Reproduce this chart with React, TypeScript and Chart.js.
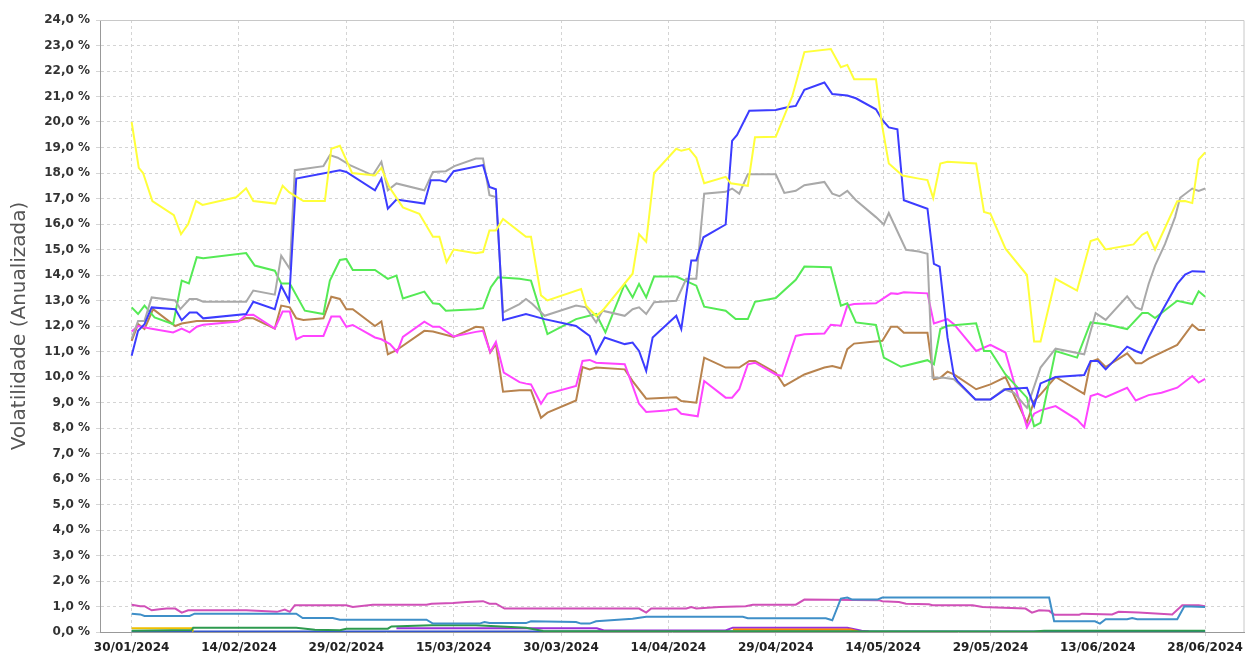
import React, { useEffect, useRef } from "react";
import { Chart, registerables } from "chart.js";

Chart.register(...registerables);

// x values are days after 30/01/2024
const tickDays = [0, 15, 30, 45, 60, 75, 90, 105, 120, 135, 150];
const tickLabels = [
  "30/01/2024", "14/02/2024", "29/02/2024", "15/03/2024", "30/03/2024", "14/04/2024",
  "29/04/2024", "14/05/2024", "29/05/2024", "13/06/2024", "28/06/2024",
];

const yellowSeries: [number, number][] = [
  [0, 20.0], [1, 18.2], [1.6, 18.0], [2.9, 16.9], [5.9, 16.35], [6.9, 15.6], [7.9, 16.0], [9, 16.9], [9.9, 16.75],
  [14.6, 17.05], [16, 17.4], [17, 16.9], [20.1, 16.8], [21.1, 17.5], [22, 17.25], [24, 16.9], [27, 16.9], [27.9, 18.95],
  [29.1, 19.07], [30.8, 18.0], [34, 17.9], [34.9, 18.2], [36, 17.45], [37.9, 16.65], [40.2, 16.4], [42.1, 15.5], [43, 15.5],
  [44, 14.5], [45, 15.0], [48.1, 14.85], [49.1, 14.9], [50, 15.75], [50.9, 15.75], [51.9, 16.2], [55.1, 15.5], [55.8, 15.5],
  [57.2, 13.2], [58.1, 13.0], [62.8, 13.45], [63.5, 12.8], [64.9, 12.4], [65.8, 12.6], [70, 14.05], [70.9, 15.6], [71.9, 15.3],
  [73, 18.0], [76.1, 18.95], [76.8, 18.87], [77.9, 18.95], [78.9, 18.6], [80, 17.6], [83, 17.85], [83.7, 17.6], [86.1, 17.5],
  [87.1, 19.4], [90, 19.42], [92.3, 21.0], [94, 22.74], [97.7, 22.86], [99.1, 22.15], [100, 22.24], [100.95, 21.68], [104, 21.68],
  [104.9, 19.8], [105.8, 18.37], [107.7, 17.9], [110, 17.78], [111.2, 17.72], [112, 17.02], [113, 18.37], [114, 18.44], [118, 18.37],
  [119.1, 16.47], [120, 16.4], [122.1, 15.03], [125.1, 14.0], [126.1, 11.39], [127, 11.39], [129.1, 13.85], [132.1, 13.39],
  [134, 15.33], [135, 15.42], [136.1, 15.0], [140, 15.2], [141.2, 15.58], [141.9, 15.68], [143, 15.0], [146.1, 16.89],
  [147.2, 16.9], [148.2, 16.82], [149.1, 18.53], [150, 18.81],
];

const graySeries: [number, number][] = [
  [0, 11.5], [0.9, 12.2], [1.8, 12.2], [2.8, 13.12], [6.1, 13.0], [6.8, 12.66], [8.1, 13.06], [9.1, 13.06], [10, 12.95], [16, 12.95],
  [17, 13.39], [20, 13.23], [20.9, 14.76], [22.1, 14.24], [22.8, 18.11], [26.8, 18.27], [27.7, 18.7], [28.8, 18.6], [30.5, 18.31],
  [33.7, 17.91], [34.9, 18.44], [35.8, 17.32], [37, 17.59], [40.9, 17.32], [42.1, 18.04], [43.9, 18.07], [45.1, 18.27], [48.1, 18.57],
  [49.1, 18.57], [50, 17.13], [50.9, 17.06], [51.9, 12.53], [54.2, 12.86], [55.1, 13.06], [56, 12.86], [57.7, 12.4], [62.1, 12.8],
  [63.5, 12.73], [64.9, 12.14], [65.8, 12.6], [68.9, 12.4], [70, 12.66], [70.9, 12.73], [71.9, 12.47], [73, 12.93], [76.1, 12.99],
  [77.5, 13.85], [78.9, 13.85], [80, 17.19], [83, 17.26], [83.9, 17.39], [84.9, 17.19], [86.1, 17.95], [90, 17.95], [91.2, 17.22],
  [92.8, 17.3], [94, 17.52], [96.8, 17.65], [97.9, 17.19], [98.9, 17.09], [100, 17.3], [101.2, 16.93], [104, 16.27], [105.1, 15.98],
  [105.8, 16.43], [108.2, 14.99], [110, 14.92], [111.2, 14.83], [111.9, 9.97], [113.5, 9.97], [114.9, 9.91], [117.9, 9.12], [120, 9.12],
  [121.9, 9.52], [123.3, 9.38], [125.1, 8.79], [127, 10.37], [129.1, 11.11], [133.1, 10.89], [134.7, 12.51], [136.1, 12.24],
  [139.1, 13.16], [140.3, 12.73], [141.1, 12.64], [142.1, 13.65], [143, 14.37], [144.4, 15.22], [145.8, 16.27], [146.5, 17.03],
  [148.2, 17.39], [149.1, 17.3], [150, 17.39],
];

const blueSeries: [number, number][] = [
  [0, 10.83], [0.9, 11.81], [1.8, 12.07], [2.8, 12.73], [6.1, 12.66], [7, 12.23], [8.1, 12.53], [9.1, 12.53], [10, 12.3], [16, 12.47],
  [17, 12.95], [20, 12.66], [20.9, 13.58], [22, 12.99], [23, 17.78], [29.1, 18.11], [30, 18.04], [34, 17.32], [34.9, 17.78],
  [35.8, 16.6], [37, 16.96], [40.9, 16.8], [41.8, 17.72], [43, 17.72], [43.9, 17.65], [45, 18.07], [49.1, 18.31], [50, 17.45],
  [50.9, 17.36], [51.9, 12.23], [55.1, 12.47], [57.7, 12.27], [62.1, 12.0], [64, 11.61], [64.9, 10.92], [66.1, 11.55], [68.9, 11.29],
  [70, 11.35], [70.9, 11.02], [71.9, 10.24], [72.8, 11.55], [76.1, 12.4], [76.8, 11.88], [78.2, 14.57], [78.9, 14.57], [79.9, 15.48],
  [83, 15.98], [83.9, 19.26], [84.6, 19.49], [86.3, 20.44], [90, 20.47], [91.6, 20.58], [92.8, 20.63], [94, 21.26], [96.8, 21.55],
  [97.9, 21.1], [100, 21.04], [101.2, 20.93], [104, 20.5], [104.9, 20.08], [105.8, 19.79], [107, 19.71], [107.9, 16.93], [111.2, 16.6],
  [112.1, 14.44], [112.9, 14.33], [114, 11.55], [114.9, 10.04], [115.4, 9.84], [117.9, 9.12], [120, 9.12], [122.1, 9.52], [125.1, 9.58],
  [126.1, 8.86], [127, 9.75], [129.1, 10.0], [133.1, 10.08], [134, 10.63], [135, 10.63], [136.1, 10.3], [139.1, 11.19], [140.3, 11.02],
  [141.1, 10.93], [142.1, 11.55], [144, 12.6], [146.1, 13.65], [147.2, 14.02], [148.2, 14.15], [150, 14.13],
];

const greenSeries: [number, number][] = [
  [0, 12.73], [0.9, 12.47], [1.8, 12.8], [3.2, 12.34], [5.8, 12.07], [7, 13.78], [8, 13.67], [9.1, 14.7], [10, 14.66], [16, 14.86],
  [17.2, 14.37], [20, 14.17], [20.9, 13.67], [22.1, 13.67], [24.2, 12.6], [26.8, 12.47], [27.7, 13.78], [29.1, 14.59], [30, 14.63],
  [30.9, 14.2], [34, 14.2], [35.8, 13.85], [37, 13.98], [37.9, 13.08], [40.9, 13.35], [42.1, 12.89], [43, 12.86], [43.9, 12.6],
  [48.1, 12.66], [49.1, 12.7], [50.2, 13.52], [51.2, 13.91], [54.2, 13.85], [55.8, 13.78], [58.1, 11.68], [62.1, 12.27], [64.9, 12.47],
  [66.2, 11.75], [68.9, 13.65], [70, 13.12], [70.9, 13.65], [71.9, 13.12], [73, 13.94], [76.1, 13.94], [78.9, 13.58], [80, 12.76],
  [83, 12.6], [84.4, 12.27], [86.1, 12.27], [87.1, 12.95], [90, 13.1], [92.8, 13.81], [94, 14.33], [97.7, 14.3], [99.1, 12.8],
  [100, 12.89], [101.2, 12.14], [104, 12.04], [105.1, 10.76], [107.5, 10.4], [111.2, 10.66], [112.1, 10.5], [113, 11.88], [114, 12.01],
  [118, 12.11], [119.1, 11.02], [120, 11.02], [122.1, 10.1], [125.1, 9.19], [126.1, 8.07], [127, 8.2], [129.1, 11.02], [132.1, 10.76],
  [134, 12.14], [136.1, 12.07], [139.1, 11.88], [141.2, 12.51], [142, 12.51], [143, 12.31], [146.1, 12.99], [148.2, 12.86],
  [149.1, 13.36], [150, 13.15],
];

const brownSeries: [number, number][] = [
  [0, 11.42], [0.9, 12.07], [1.8, 11.88], [3, 12.66], [6.1, 12.0], [7, 12.1], [9.1, 12.2], [14.9, 12.2], [16, 12.31], [17, 12.3],
  [20, 11.9], [20.9, 12.8], [22.1, 12.73], [23, 12.3], [24, 12.24], [26.8, 12.3], [27.9, 13.15], [29.1, 13.06], [30, 12.66],
  [30.9, 12.66], [34, 12.0], [34.9, 12.18], [35.8, 10.89], [37, 11.05], [40.9, 11.81], [42.1, 11.78], [45, 11.57], [48.1, 11.97],
  [49.1, 11.94], [50.1, 10.96], [50.9, 11.29], [51.9, 9.42], [54.2, 9.48], [55.8, 9.48], [57.2, 8.4], [58.1, 8.6], [62.1, 9.08],
  [63, 10.39], [64, 10.3], [64.9, 10.37], [68.9, 10.3], [70, 9.84], [71.9, 9.15], [76.1, 9.21], [76.8, 9.06], [78.9, 8.99], [80, 10.76],
  [83, 10.37], [84.9, 10.37], [86.3, 10.63], [87.1, 10.63], [90, 10.17], [91.2, 9.65], [94, 10.1], [96.8, 10.37], [97.9, 10.43],
  [99.1, 10.34], [100, 11.09], [100.95, 11.31], [104.9, 11.42], [106.1, 11.97], [107, 11.97], [107.9, 11.74], [111.2, 11.74],
  [112.1, 9.91], [113, 9.97], [114, 10.21], [114.9, 10.1], [118, 9.52], [120, 9.71], [122.1, 10.0], [125.1, 8.2], [126.1, 9.06],
  [127, 9.32], [129.1, 10.0], [133.1, 9.34], [134, 10.6], [135, 10.7], [136.1, 10.39], [139.1, 10.93], [140.3, 10.54], [141.1, 10.54],
  [142.1, 10.72], [146.1, 11.26], [148.2, 12.05], [149.1, 11.84], [150, 11.84],
];

const magentaSeries: [number, number][] = [
  [0, 11.78], [0.9, 12.0], [2.6, 11.9], [5.8, 11.75], [7, 11.9], [8.1, 11.75], [9.1, 11.97], [10, 12.05], [14.9, 12.18], [16, 12.43],
  [17, 12.44], [20, 11.9], [21.1, 12.57], [22.1, 12.57], [23, 11.48], [24, 11.61], [26.8, 11.61], [27.9, 12.37], [29.1, 12.37],
  [30, 11.97], [30.9, 12.04], [34, 11.55], [34.9, 11.48], [36.1, 11.29], [37.1, 10.98], [37.9, 11.57], [40.9, 12.17], [42.1, 11.97],
  [43, 11.97], [45, 11.59], [48.1, 11.77], [49.1, 11.81], [50.1, 10.98], [50.9, 11.38], [52, 10.17], [54.2, 9.8], [55.1, 9.74],
  [55.8, 9.71], [57.2, 8.95], [58.1, 9.34], [62.1, 9.65], [63, 10.63], [64, 10.67], [64.9, 10.56], [68.9, 10.5], [70, 9.65],
  [70.9, 8.95], [71.9, 8.63], [74.7, 8.69], [76.1, 8.75], [76.8, 8.56], [79.1, 8.46], [80, 9.84], [83, 9.19], [83.9, 9.19],
  [84.9, 9.52], [86.1, 10.5], [87.1, 10.56], [90, 10.1], [90.9, 10.04], [92.8, 11.61], [94, 11.68], [96.8, 11.71], [97.7, 12.05],
  [99.1, 12.01], [100, 12.8], [100.95, 12.86], [104, 12.89], [106.1, 13.28], [107, 13.26], [107.9, 13.32], [111.2, 13.28],
  [112.1, 12.1], [114, 12.27], [114.9, 12.07], [118, 11.02], [120, 11.26], [122.1, 10.96], [125.1, 8.03], [126.1, 8.56], [127, 8.69],
  [129.1, 8.86], [132.1, 8.33], [133.1, 8.03], [134, 9.25], [135, 9.34], [136.1, 9.21], [139.1, 9.58], [140.3, 9.08], [142.1, 9.29],
  [143.9, 9.38], [146.1, 9.58], [148.2, 10.04], [149.1, 9.78], [150, 9.93],
];

const orchidSeries: [number, number][] = [
  [0, 1.07], [1.2, 1.01], [1.8, 1.01], [2.8, 0.85], [3.9, 0.89], [4.9, 0.92], [6.1, 0.92], [7, 0.76], [7.9, 0.85], [16, 0.85],
  [20.3, 0.79], [21.4, 0.88], [22.1, 0.79], [22.8, 1.05], [30, 1.05], [30.9, 0.98], [33.7, 1.07], [41.2, 1.07], [41.9, 1.11],
  [44.9, 1.14], [46.8, 1.18], [49.1, 1.21], [50, 1.11], [50.9, 1.11], [52.1, 0.92], [70.9, 0.92], [71.9, 0.76], [72.6, 0.92],
  [77.5, 0.92], [78.2, 0.98], [78.9, 0.92], [82.1, 0.98], [85.8, 1.01], [86.8, 1.07], [92.8, 1.07], [94, 1.27], [104.4, 1.25],
  [104.9, 1.21], [107.2, 1.18], [108.2, 1.11], [111.4, 1.09], [111.9, 1.05], [117.5, 1.05], [118.9, 0.98], [124.9, 0.92],
  [125.8, 0.76], [126.8, 0.85], [128.2, 0.83], [128.9, 0.68], [132.4, 0.68], [132.8, 0.72], [137, 0.69], [137.9, 0.79],
  [140.7, 0.76], [145.4, 0.69], [146.8, 1.05], [149.1, 1.05], [150, 1.01],
];

const steelSeries: [number, number][] = [
  [0, 0.72], [1.2, 0.69], [1.8, 0.63], [8.1, 0.63], [8.8, 0.72], [23, 0.72], [23.9, 0.55], [28.1, 0.55], [29.1, 0.48], [41.2, 0.48],
  [42.1, 0.33], [48.6, 0.33], [49.3, 0.39], [50, 0.35], [55.1, 0.35], [55.8, 0.42], [62.1, 0.39], [62.8, 0.33], [64, 0.33],
  [64.9, 0.42], [70, 0.52], [71.9, 0.6], [85.4, 0.6], [86.1, 0.54], [97, 0.54], [97.9, 0.46], [99.1, 1.31], [100, 1.35],
  [100.7, 1.27], [104.2, 1.27], [104.9, 1.35], [128.2, 1.35], [128.9, 0.42], [134.6, 0.42], [135.3, 0.33], [136.1, 0.5],
  [139.1, 0.5], [139.8, 0.55], [140.5, 0.5], [146.1, 0.5], [147.1, 1.01], [150, 0.98],
];

const darkGreenSeries: [number, number][] = [
  [0, 0.05], [8.4, 0.08], [8.6, 0.17], [23, 0.17], [25.6, 0.09], [29.1, 0.07], [30, 0.13], [35.8, 0.13], [36.3, 0.22],
  [41.9, 0.26], [48.1, 0.26], [55.1, 0.17], [57.5, 0.04], [126, 0.02], [127.5, 0.05], [150, 0.05],
];

const goldSeries: [number, number][] = [[0, 0.15], [8.4, 0.15], [8.6, 0.02]];
const purpleSeries: [number, number][] = [
  [37, 0.15], [65, 0.15], [66, 0.06], [83, 0.06], [84, 0.17], [100, 0.17], [102, 0.05], [103, 0.02],
];
const orangeSeries: [number, number][] = [[84, 0.1], [100.5, 0.1], [101.5, 0.02]];
const baseSeries: [number, number][] = [[0, 0.02], [150, 0.02]];

const seriesList: { data: [number, number][]; color: string }[] = [
  { data: yellowSeries, color: "#ffff3a" },
  { data: blueSeries, color: "#3c3cff" },
  { data: graySeries, color: "#a9a9a9" },
  { data: greenSeries, color: "#55ea55" },
  { data: magentaSeries, color: "#ff44ff" },
  { data: brownSeries, color: "#b8834e" },
  { data: steelSeries, color: "#3f8fc8" },
  { data: orchidSeries, color: "#d050b8" },
  { data: darkGreenSeries, color: "#2e9a4e" },
  { data: goldSeries, color: "#f0c000" },
  { data: orangeSeries, color: "#ff8800" },
  { data: purpleSeries, color: "#9a30d8" },
  { data: baseSeries, color: "#3355cc" },
];

const frame = {
  id: "frame",
  afterDraw(chart: any) {
    const { ctx, chartArea } = chart;
    ctx.save();
    ctx.strokeStyle = "#c8c8c8";
    ctx.lineWidth = 1;
    ctx.beginPath();
    ctx.moveTo(chartArea.left, chartArea.top + 0.5);
    ctx.lineTo(chartArea.right - 0.5, chartArea.top + 0.5);
    ctx.lineTo(chartArea.right - 0.5, chartArea.bottom);
    ctx.stroke();
    ctx.restore();
  },
};

export default function App() {
  const ref = useRef<HTMLCanvasElement | null>(null);
  useEffect(() => {
    if (!ref.current) return;
    const chart = new Chart(ref.current, {
      type: "line",
      data: {
        datasets: seriesList.map((s) => ({
          data: s.data.map(([x, y]) => ({ x, y })),
          borderColor: s.color,
          backgroundColor: s.color,
          borderWidth: 2,
          pointRadius: 0,
          tension: 0,
          fill: false,
        })),
      },
      options: {
        animation: false,
        responsive: true,
        maintainAspectRatio: false,
        layout: { padding: { left: 0, top: 20, right: 2, bottom: 0 } },
        plugins: { legend: { display: false }, tooltip: { enabled: false } },
        scales: {
          x: {
            type: "linear",
            min: -4.42,
            max: 155.5,
            afterBuildTicks: (scale: any) => {
              scale.ticks = tickDays.map((v) => ({ value: v }));
            },
            afterFit: (scale: any) => {
              scale.height = 21;
            },
            ticks: {
              autoSkip: false,
              maxRotation: 0,
              padding: 5,
              color: "#222",
              font: { family: "DejaVu Sans", size: 12, weight: "bold" },
              callback: (v: any) => {
                const i = tickDays.indexOf(Number(v));
                return i >= 0 ? tickLabels[i] : "";
              },
            },
            grid: { color: "#d4d4d4", tickLength: 4, drawTicks: true },
            border: { display: true, color: "#999", width: 1, dash: [3, 3] },
          },
          y: {
            min: 0,
            max: 24,
            afterFit: (scale: any) => {
              scale.width = 100;
            },
            ticks: {
              stepSize: 1,
              padding: 6,
              color: "#333",
              font: { family: "DejaVu Sans", size: 12, weight: "bold" },
              callback: (v: any) => Number(v).toFixed(1).replace(".", ",") + " %",
            },
            grid: { color: "#d4d4d4", tickLength: 4, drawTicks: true },
            border: { display: true, color: "#999", width: 1, dash: [3, 3] },
            title: {
              display: true,
              text: "Volatilidade (Anualizada)",
              color: "#555",
              font: { family: "DejaVu Sans", size: 20, weight: "normal" },
              padding: { top: 8, bottom: 0 },
            },
          },
        },
      },
      plugins: [frame],
    });
    return () => chart.destroy();
  }, []);
  return (
    <div style={{ position: "fixed", left: 0, top: 0, width: 1248, height: 653, background: "#fff" }}>
      <canvas ref={ref} />
    </div>
  );
}
